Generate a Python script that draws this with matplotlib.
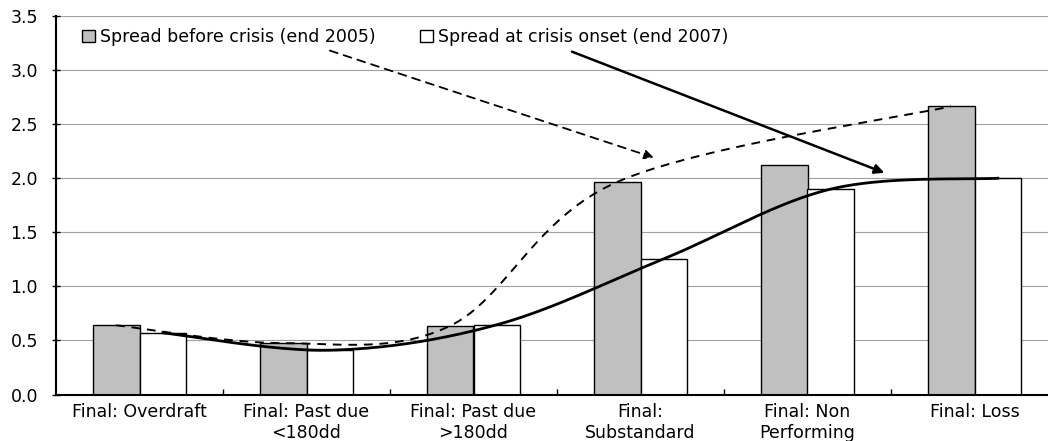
import numpy as np
import matplotlib
matplotlib.use("Agg")
import matplotlib.pyplot as plt
from matplotlib.patches import Patch

plt.rcParams['font.family'] = ['DejaVu Sans']
plt.rcParams['font.size'] = 12.5

categories = ["Final: Overdraft", "Final: Past due\n<180dd", "Final: Past due\n>180dd",
              "Final:\nSubstandard", "Final: Non\nPerforming", "Final: Loss"]
spread_2005 = [0.64, 0.475, 0.635, 1.965, 2.12, 2.665]
spread_2007 = [0.57, 0.41, 0.645, 1.255, 1.90, 2.00]
dashed_idx = [0, 1, 2, 3, 5]          # points of 2005 series used by the dashed trend
legend_labels = ["Spread before crisis (end 2005)", "Spread at crisis onset (end 2007)"]
y_ticks = [0.0, 0.5, 1.0, 1.5, 2.0, 2.5, 3.0, 3.5]


def smooth(xs, ys, n=40):
    """Excel-like smoothed line (Catmull-Rom / Bezier) through the given points."""
    P = np.column_stack([xs, ys]).astype(float)
    ext = np.vstack([P[0], P, P[-1]])
    out = []
    for i in range(1, len(ext) - 2):
        p0, p1, p2, p3 = ext[i - 1], ext[i], ext[i + 1], ext[i + 2]
        c1 = p1 + (p2 - p0) / 6.0
        c2 = p2 - (p3 - p1) / 6.0
        t = np.linspace(0, 1, n)[:, None]
        seg = ((1 - t) ** 3) * p1 + 3 * ((1 - t) ** 2) * t * c1 + 3 * (1 - t) * t ** 2 * c2 + t ** 3 * p2
        out.append(seg if i == 1 else seg[1:])
    out = np.vstack(out)
    return out[:, 0], out[:, 1]


W, H = 1048, 441
fig = plt.figure(figsize=(W / 100, H / 100), dpi=100)
ax = fig.add_axes([56 / W, 46.5 / H, 1002 / W, 378.5 / H])

x = np.arange(len(categories))
bw = 0.28
ax.bar(x - bw / 2, spread_2005, bw, color='#C0C0C0', edgecolor='black', linewidth=1.0, zorder=2)
ax.bar(x + bw / 2, spread_2007, bw, color='white', edgecolor='black', linewidth=1.0, zorder=2)

# trend lines
dx = [x[i] - bw / 2 for i in dashed_idx]
dy = [spread_2005[i] for i in dashed_idx]
sx, sy = smooth(dx, dy)
ax.plot(sx, sy, color='black', lw=1.4, ls=(0, (4.5, 3.5)), zorder=3)
wx, wy = smooth(x + bw / 2, spread_2007)
ax.plot(wx, wy, color='black', lw=2.0, zorder=3)

# arrows from legend to lines
ax.annotate('', xy=(3.08, 2.19), xytext=(1.14, 3.18),
            arrowprops=dict(arrowstyle='-|>', color='black', lw=1.3, ls=(0, (4.5, 3.5)),
                            mutation_scale=14, shrinkA=0, shrinkB=0), zorder=4)
ax.annotate('', xy=(4.46, 2.05), xytext=(2.59, 3.17),
            arrowprops=dict(arrowstyle='-|>', color='black', lw=1.8,
                            mutation_scale=14, shrinkA=0, shrinkB=0), zorder=4)

ax.set_xlim(-0.5, len(categories) - 0.5)
ax.set_ylim(0, 3.5)
ax.set_yticks(y_ticks)
ax.set_yticklabels([f"{v:.1f}" for v in y_ticks])
ax.set_xticks(x)
ax.set_xticklabels(categories)
ax.set_xticks(x[:-1] + 0.5, minor=True)
ax.tick_params(axis='x', which='major', length=0, pad=6)
ax.tick_params(axis='x', which='minor', direction='in', length=4, width=1)
ax.tick_params(axis='y', direction='inout', length=6, width=1, pad=10)

ax.yaxis.grid(True, color='#a0a0a0', lw=0.8, zorder=0)
ax.set_axisbelow(True)
for s in ['top', 'right']:
    ax.spines[s].set_visible(False)
ax.spines['left'].set_linewidth(1.5)
ax.spines['bottom'].set_linewidth(1.5)

handles = [Patch(facecolor='#C0C0C0', edgecolor='black', lw=1.0),
           Patch(facecolor='white', edgecolor='black', lw=1.0)]
ax.legend(handles, legend_labels, ncol=2, loc='center left', bbox_to_anchor=(0.026, 0.944),
          frameon=False, handlelength=0.75, handleheight=0.75, handletextpad=0.3,
          columnspacing=2.55, borderpad=0, borderaxespad=0)

fig.savefig('out.png', dpi=100)
